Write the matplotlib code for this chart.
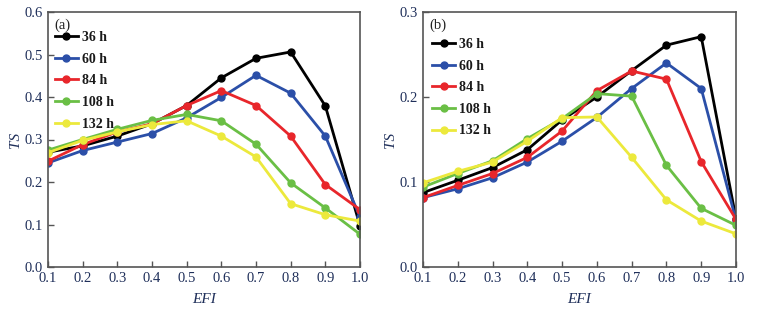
import matplotlib
matplotlib.use("Agg")
import matplotlib.pyplot as plt

efi = [0.1, 0.2, 0.3, 0.4, 0.5, 0.6, 0.7, 0.8, 0.9, 1.0]
labels = ["36 h", "60 h", "84 h", "108 h", "132 h"]
colors = ["#000000", "#2b4fa8", "#e8262b", "#6abf45", "#ece93c"]

ts_a_36 = [0.27, 0.285, 0.308, 0.337, 0.38, 0.445, 0.491, 0.506, 0.379, 0.097]
ts_a_60 = [0.245, 0.274, 0.294, 0.314, 0.351, 0.399, 0.451, 0.409, 0.308, 0.118]
ts_a_84 = [0.249, 0.288, 0.318, 0.337, 0.38, 0.415, 0.38, 0.308, 0.194, 0.135]
ts_a_108 = [0.275, 0.30, 0.324, 0.345, 0.359, 0.344, 0.289, 0.198, 0.139, 0.077]
ts_a_132 = [0.269, 0.298, 0.318, 0.335, 0.344, 0.308, 0.259, 0.149, 0.123, 0.108]

ts_b_36 = [0.0875, 0.102, 0.117, 0.138, 0.173, 0.20, 0.231, 0.261, 0.271, 0.057]
ts_b_60 = [0.0816, 0.092, 0.105, 0.1235, 0.148, 0.176, 0.21, 0.240, 0.21, 0.055]
ts_b_84 = [0.0816, 0.096, 0.11, 0.129, 0.16, 0.2075, 0.2306, 0.221, 0.124, 0.056]
ts_b_108 = [0.094, 0.11, 0.125, 0.151, 0.1745, 0.204, 0.201, 0.1196, 0.069, 0.049]
ts_b_132 = [0.099, 0.1125, 0.1235, 0.148, 0.1757, 0.1765, 0.129, 0.079, 0.054, 0.039]

series_a = [ts_a_36, ts_a_60, ts_a_84, ts_a_108, ts_a_132]
series_b = [ts_b_36, ts_b_60, ts_b_84, ts_b_108, ts_b_132]

plt.rcParams['font.family'] = ['Liberation Serif', 'DejaVu Serif']

fig = plt.figure(figsize=(7.73, 3.13), dpi=100)
W, H = 773, 313
ax_a = fig.add_axes([48 / W, 1 - 267 / H, (360 - 48) / W, (267 - 12) / H])
ax_b = fig.add_axes([423 / W, 1 - 267 / H, (736 - 423) / W, (267 - 12) / H])

tick_color = "#1f2f5a"
spine_color = "#555555"

for ax, series, ymax, yticks, panel, anchor in [
    (ax_a, series_a, 0.6, [0.0, 0.1, 0.2, 0.3, 0.4, 0.5, 0.6], "(a)", (0.022, 0.925)),
    (ax_b, series_b, 0.3, [0.0, 0.1, 0.2, 0.3], "(b)", (0.029, 0.898)),
]:
    for vals, lab, c in zip(series, labels, colors):
        ax.plot(efi, vals, color=c, lw=2.0, marker='o', ms=5, label=lab)
    ax.set_xlim(0.1, 1.0)
    ax.set_ylim(0, ymax)
    ax.set_xticks(efi)
    ax.set_xticklabels([f"{v:.1f}" for v in efi])
    ax.set_yticks(yticks)
    ax.set_yticklabels([f"{v:.1f}" for v in yticks])
    ax.tick_params(direction='in', length=4, width=1, colors=spine_color,
                   labelcolor=tick_color, labelsize=10.5)
    for s in ax.spines.values():
        s.set_color(spine_color)
        s.set_linewidth(1.2)
    ax.set_xlabel("EFI", style='italic', fontsize=11, color=tick_color, labelpad=6)
    ax.set_ylabel("TS", style='italic', fontsize=11, color=tick_color, labelpad=2)
    ax.text(0.02, 0.975, panel, transform=ax.transAxes, ha='left', va='top',
            fontsize=10.5, color="#222222")
    leg = ax.legend(loc='upper left', bbox_to_anchor=anchor, frameon=False,
                    handlelength=1.65, handletextpad=0.3, labelspacing=0.62,
                    fontsize=10, borderaxespad=0.0, borderpad=0.0)
    for t in leg.get_texts():
        t.set_fontweight('semibold')
        t.set_color("#1a1a1a")

fig.savefig("out.png", dpi=100)
